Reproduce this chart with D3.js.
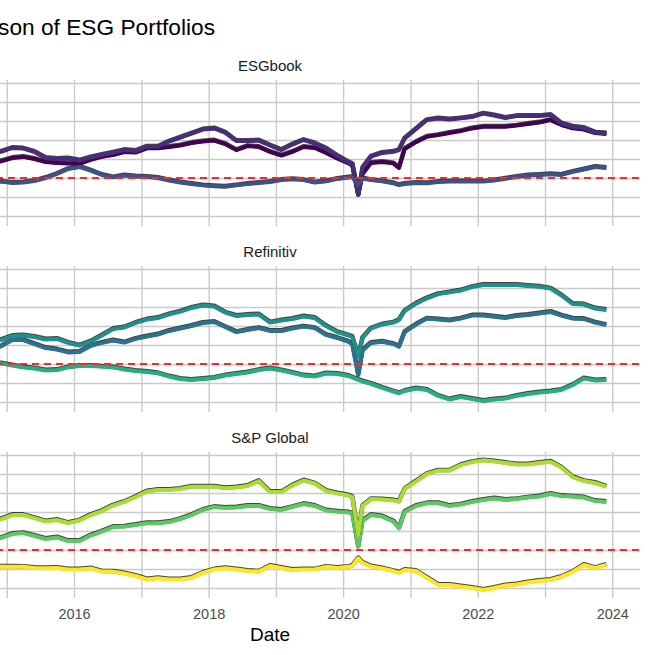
<!DOCTYPE html>
<html>
<head>
<meta charset="utf-8">
<script src="https://cdn.jsdelivr.net/npm/d3@7"></script>
<style>
html,body{margin:0;padding:0;background:#fff;}
svg{display:block;font-family:"Liberation Sans",Arial,sans-serif;}
</style>
</head>
<body>
<svg id="chart" width="655" height="655"></svg>
<script>
// ---------------- data ----------------
const dates = [
"2013-11-30","2014-01-31","2014-03-31","2014-05-31","2014-07-31","2014-09-30",
"2014-11-30","2015-01-31","2015-03-31","2015-05-31","2015-07-31","2015-09-30","2015-11-30",
"2016-01-31","2016-03-31","2016-05-31","2016-07-31","2016-09-30","2016-11-30",
"2017-01-31","2017-03-31","2017-05-31","2017-07-31","2017-09-30","2017-11-30",
"2018-01-31","2018-03-31","2018-05-31","2018-07-31","2018-09-30","2018-11-30",
"2019-01-31","2019-03-31","2019-05-31","2019-07-31","2019-09-30","2019-11-30","2020-01-31",
"2020-02-20","2020-03-23","2020-04-15",
"2020-05-31","2020-07-31","2020-09-30",
"2020-10-30",
"2020-11-30","2021-01-31","2021-03-31","2021-05-31","2021-07-31","2021-09-30","2021-11-30",
"2022-01-31","2022-03-31","2022-05-31","2022-07-31","2022-09-30","2022-11-30",
"2023-01-31","2023-03-31","2023-05-31","2023-07-31","2023-09-30","2023-11-30"
];

const providers = ["ESGbook", "Refinitiv", "S&P Global"];
const portfolioTypes = ["High ESG", "Low ESG", "High minus Low"];

const esgbookHigh = [0.121,0.126,0.137,0.116,0.132,0.147,
0.138,0.158,0.155,0.137,0.105,0.100,0.103,
0.092,0.108,0.121,0.134,0.147,0.142,
0.165,0.165,0.192,0.213,0.234,0.255,
0.261,0.239,0.195,0.195,0.197,0.171,
0.147,0.176,0.200,0.182,0.155,0.116,0.082,
0.074,-0.089,0.053,
0.113,0.132,0.138,
0.147,
0.208,0.258,0.305,0.313,0.308,0.314,0.321,
0.339,0.329,0.316,0.326,0.326,0.326,
0.332,0.287,0.270,0.263,0.239,0.235];

const esgbookLow = [0.079,0.084,0.095,0.079,0.089,0.100,
0.087,0.105,0.111,0.100,0.084,0.079,0.076,
0.074,0.095,0.111,0.121,0.137,0.134,
0.156,0.156,0.163,0.171,0.184,0.192,
0.197,0.179,0.147,0.168,0.163,0.137,
0.118,0.137,0.163,0.158,0.132,0.103,0.076,
0.066,-0.089,0.021,
0.079,0.084,0.077,
0.053,
0.153,0.189,0.217,0.226,0.237,0.247,0.261,
0.270,0.270,0.270,0.276,0.284,0.292,
0.305,0.279,0.262,0.255,0.237,0.232];

const esgbookSpread = [-0.011,-0.021,-0.016,-0.011,-0.021,-0.026,
-0.019,-0.026,-0.024,-0.016,0.000,0.021,0.047,
0.058,0.039,0.016,0.003,0.013,0.008,
0.005,0.000,-0.013,-0.024,-0.032,-0.039,
-0.043,-0.046,-0.039,-0.032,-0.026,-0.021,
-0.011,-0.007,-0.011,-0.024,-0.018,-0.005,0.003,
0.005,-0.037,-0.003,
-0.011,-0.018,-0.028,
-0.037,
-0.032,-0.026,-0.028,-0.021,-0.019,-0.019,-0.019,
-0.019,-0.013,-0.004,0.005,0.013,0.016,
0.020,0.016,0.032,0.045,0.058,0.053];

const refinitivHigh = [0.116,0.126,0.111,0.121,0.132,0.121,
0.126,0.147,0.150,0.142,0.129,0.132,0.111,
0.097,0.118,0.150,0.184,0.192,0.216,
0.234,0.242,0.261,0.276,0.295,0.308,
0.303,0.271,0.253,0.258,0.261,0.218,
0.229,0.237,0.250,0.242,0.200,0.168,0.150,
0.142,0.038,0.137,
0.187,0.208,0.218,
0.232,
0.279,0.318,0.346,0.368,0.377,0.387,0.405,
0.416,0.416,0.416,0.416,0.411,0.407,
0.397,0.361,0.316,0.313,0.292,0.284];

const refinitivLow = [0.084,0.089,0.074,0.079,0.095,0.084,
0.092,0.126,0.126,0.105,0.084,0.076,0.061,
0.063,0.095,0.111,0.124,0.113,0.132,
0.145,0.155,0.174,0.187,0.200,0.216,
0.221,0.195,0.168,0.179,0.189,0.174,
0.174,0.187,0.197,0.189,0.153,0.137,0.116,
0.105,-0.058,0.071,
0.111,0.117,0.105,
0.091,
0.168,0.208,0.239,0.234,0.229,0.239,0.255,
0.255,0.249,0.242,0.253,0.258,0.266,
0.274,0.255,0.239,0.237,0.218,0.205];

const refinitivSpread = [0.011,0.005,0.016,0.011,0.000,0.005,
0.003,-0.008,-0.018,-0.024,-0.034,-0.032,-0.018,
-0.011,-0.011,-0.014,-0.018,-0.029,-0.037,
-0.042,-0.049,-0.066,-0.079,-0.084,-0.079,
-0.074,-0.061,-0.053,-0.045,-0.032,-0.024,
-0.034,-0.047,-0.061,-0.066,-0.050,-0.053,-0.063,
-0.071,-0.084,-0.092,
-0.105,-0.126,-0.145,
-0.154,
-0.142,-0.129,-0.137,-0.168,-0.187,-0.174,-0.184,
-0.195,-0.187,-0.182,-0.168,-0.158,-0.150,
-0.145,-0.137,-0.111,-0.076,-0.087,-0.084];

const spHigh = [0.153,0.163,0.147,0.168,0.158,0.174,
0.161,0.184,0.184,0.168,0.150,0.158,0.142,
0.155,0.184,0.205,0.234,0.253,0.279,
0.308,0.316,0.316,0.321,0.333,0.333,
0.333,0.325,0.329,0.337,0.363,0.305,
0.305,0.339,0.366,0.350,0.311,0.298,0.287,
0.279,0.079,0.232,
0.268,0.266,0.261,
0.254,
0.321,0.361,0.400,0.418,0.418,0.447,0.463,
0.472,0.466,0.458,0.450,0.450,0.458,
0.465,0.434,0.384,0.363,0.353,0.333];

const spLow = [0.068,0.079,0.063,0.084,0.068,0.079,
0.063,0.084,0.089,0.074,0.058,0.066,0.047,
0.047,0.076,0.097,0.121,0.123,0.132,
0.141,0.141,0.147,0.163,0.184,0.211,
0.226,0.221,0.224,0.232,0.232,0.216,
0.211,0.226,0.242,0.232,0.208,0.202,0.197,
0.192,0.017,0.153,
0.184,0.176,0.150,
0.114,
0.200,0.232,0.246,0.246,0.232,0.239,0.253,
0.263,0.271,0.263,0.268,0.276,0.282,
0.295,0.284,0.281,0.276,0.258,0.253];

const spSpread = [-0.084,-0.089,-0.079,-0.084,-0.095,-0.084,
-0.088,-0.088,-0.089,-0.095,-0.096,-0.095,-0.103,
-0.103,-0.097,-0.114,-0.114,-0.124,-0.137,
-0.155,-0.149,-0.155,-0.155,-0.147,-0.121,
-0.103,-0.096,-0.103,-0.111,-0.114,-0.084,
-0.095,-0.105,-0.103,-0.103,-0.089,-0.095,-0.089,
-0.084,-0.044,-0.068,
-0.087,-0.097,-0.111,
-0.121,
-0.105,-0.111,-0.147,-0.184,-0.184,-0.192,-0.200,
-0.211,-0.200,-0.187,-0.182,-0.171,-0.163,
-0.158,-0.142,-0.116,-0.079,-0.095,-0.079];

const viridis9 = ["#440154","#472D7B","#3B528B","#2C728E","#21908C","#27AD81","#5DC863","#AADC32","#FDE725"];

const yGridValues = [-0.2,-0.1,0,0.1,0.2,0.3,0.4,0.5];
const yLimits = [-0.253, 0.516];
const xTickYears = [2014,2016,2018,2020,2022,2024];
const xGridYears = [2014,2015,2016,2017,2018,2019,2020,2021,2022,2023,2024];

const chartTitle = "Comparison of ESG Portfolios";
const xAxisTitle = "Date";

// -------------- layout ---------------
const panelLeft = -100, panelRight = 640;
const panelTop0 = 80, panelH = 146, panelPitch = 186;

const parse = d3.timeParse("%Y-%m-%d");
const dateObjs = dates.map(parse);

const panelsData = [
  {name: providers[0], series: [
    {type: portfolioTypes[1], values: esgbookLow, color: viridis9[0]},
    {type: portfolioTypes[0], values: esgbookHigh, color: viridis9[1]},
    {type: portfolioTypes[2], values: esgbookSpread, color: viridis9[2]}]},
  {name: providers[1], series: [
    {type: portfolioTypes[1], values: refinitivLow, color: viridis9[3]},
    {type: portfolioTypes[0], values: refinitivHigh, color: viridis9[4]},
    {type: portfolioTypes[2], values: refinitivSpread, color: viridis9[5]}]},
  {name: providers[2], series: [
    {type: portfolioTypes[1], values: spLow, color: viridis9[6]},
    {type: portfolioTypes[0], values: spHigh, color: viridis9[7]},
    {type: portfolioTypes[2], values: spSpread, color: viridis9[8]}]}
];

const [d0, d1] = d3.extent(dateObjs);
const span = d1 - d0;
const x = d3.scaleTime()
  .domain([new Date(+d0 - 0.05*span), new Date(+d1 + 0.05*span)])
  .range([panelLeft, panelRight]);
const y = d3.scaleLinear().domain(yLimits).range([panelH, 0]);

const svg = d3.select("#chart");

svg.append("text")
  .attr("x", 215).attr("y", 35)
  .attr("text-anchor", "end")
  .attr("font-size", 22.7)
  .attr("fill", "#000")
  .text(chartTitle);

const line = d3.line()
  .x((d, i) => x(dateObjs[i]))
  .y(d => y(d));

panelsData.forEach((p, pi) => {
  const g = svg.append("g").attr("transform", `translate(0,${panelTop0 + pi*panelPitch})`);

  // strip label
  g.append("text")
    .attr("x", (panelLeft + panelRight)/2).attr("y", -9.5)
    .attr("text-anchor", "middle")
    .attr("font-size", 15)
    .attr("fill", "#1a1a1a")
    .text(p.name);

  // horizontal grid
  const gy = g.append("g")
    .attr("transform", `translate(${panelLeft},0)`)
    .call(d3.axisLeft(y).tickValues(yGridValues).tickSize(-(panelRight - panelLeft)).tickFormat(""));
  gy.select(".domain").remove();
  gy.selectAll("line").attr("stroke", "#cacaca").attr("stroke-width", 1.4);

  // vertical grid
  const gx = g.append("g")
    .attr("transform", `translate(0,${panelH})`)
    .call(d3.axisBottom(x)
      .tickValues(xGridYears.map(yy => new Date(yy, 0, 1)))
      .tickSize(-panelH).tickFormat(""));
  gx.select(".domain").remove();
  gx.selectAll("line").attr("stroke", "#cacaca").attr("stroke-width", 1.4);

  // series
  p.series.forEach(s => {
    g.append("path")
      .datum(s.values)
      .attr("d", line)
      .attr("fill", "none")
      .attr("stroke", "#222")
      .attr("stroke-opacity", 0.85)
      .attr("stroke-width", 4.5)
      .attr("stroke-linejoin", "round")
      .attr("transform", "translate(0,-0.7)");
    g.append("path")
      .datum(s.values)
      .attr("d", line)
      .attr("fill", "none")
      .attr("stroke", s.color)
      .attr("stroke-width", 4)
      .attr("stroke-linejoin", "round");
  });

  // zero reference
  g.append("line")
    .attr("x1", panelLeft).attr("x2", panelRight)
    .attr("y1", y(0)).attr("y2", y(0))
    .attr("stroke", "#f02c2c")
    .attr("stroke-width", 1.9)
    .attr("stroke-dasharray", "7,5");

  // x axis labels on last panel only
  if (pi === panelsData.length - 1) {
    const ax = g.append("g")
      .attr("transform", `translate(0,${panelH})`)
      .call(d3.axisBottom(x)
        .tickValues(xTickYears.map(yy => new Date(yy, 0, 1)).filter(d => x(d) > 20))
        .tickSize(0).tickPadding(0)
        .tickFormat(d3.timeFormat("%Y")));
    ax.select(".domain").remove();
    ax.selectAll("text")
      .attr("font-size", 14.5)
      .attr("fill", "#4d4d4d")
      .attr("dy", null)
      .attr("y", 21)
      .style("font-family", "'Liberation Sans', Arial, sans-serif");

    g.append("text")
      .attr("x", (panelLeft + panelRight)/2).attr("y", panelH + 43)
      .attr("text-anchor", "middle")
      .attr("font-size", 19)
      .attr("fill", "#000")
      .text(xAxisTitle);
  }
});
</script>
</body>
</html>
